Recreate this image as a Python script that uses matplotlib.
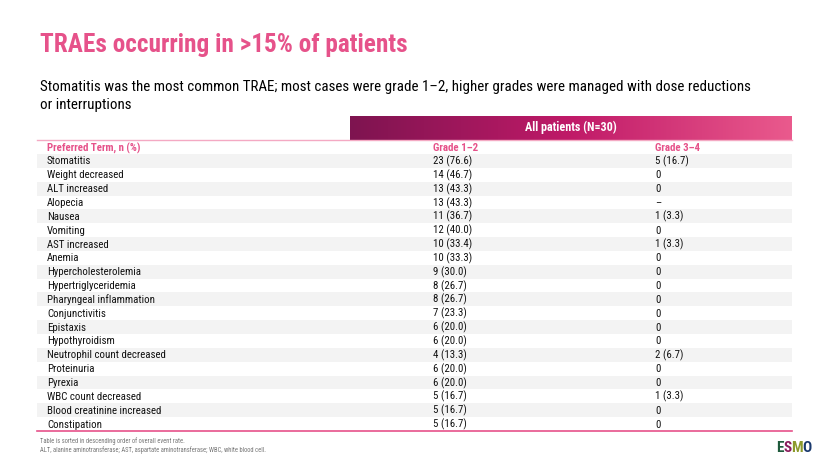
import matplotlib
matplotlib.use('Agg')
import matplotlib.pyplot as plt
import numpy as np
from matplotlib import font_manager
from matplotlib.colors import LinearSegmentedColormap

# Table content
terms = ['Stomatitis', 'Weight decreased', 'ALT increased', 'Alopecia', 'Nausea',
         'Vomiting', 'AST increased', 'Anemia', 'Hypercholesterolemia',
         'Hypertriglyceridemia', 'Pharyngeal inflammation', 'Conjunctivitis',
         'Epistaxis', 'Hypothyroidism', 'Neutrophil count decreased', 'Proteinuria',
         'Pyrexia', 'WBC count decreased', 'Blood creatinine increased', 'Constipation']
grade_12 = ['23 (76.6)', '14 (46.7)', '13 (43.3)', '13 (43.3)', '11 (36.7)',
            '12 (40.0)', '10 (33.4)', '10 (33.3)', '9 (30.0)', '8 (26.7)',
            '8 (26.7)', '7 (23.3)', '6 (20.0)', '6 (20.0)', '4 (13.3)',
            '6 (20.0)', '6 (20.0)', '5 (16.7)', '5 (16.7)', '5 (16.7)']
grade_34 = ['5 (16.7)', '0', '0', '–', '1 (3.3)', '0', '1 (3.3)', '0', '0', '0',
            '0', '0', '0', '0', '2 (6.7)', '0', '0', '1 (3.3)', '0', '0']
col_headers = ['Preferred Term, n (%)', 'Grade 1–2', 'Grade 3–4']
band_label = 'All patients (N=30)'

title = 'TRAEs occurring in >15% of patients'
subtitle = ['Stomatitis was the most common TRAE; most cases were grade 1–2, higher grades '
            'were managed with dose reductions', 'or interruptions']
notes = ['Table is sorted in descending order of overall event rate.',
         'ALT, alanine aminotransferase; AST, aspartate aminotransferase; WBC, white blood cell.']

PINK = '#E6528A'
SHADE = '#F3F3F3'

# condensed font if there is one, otherwise shrink the regular one to the same widths
names = {f.name for f in font_manager.fontManager.ttflist}
FONT, k = 'Liberation Sans', 0.74
for cand, scale in [('Roboto Condensed', 1.0), ('Liberation Sans Narrow', 1.05)]:
    if cand in names:
        FONT, k = cand, scale
        break
plt.rcParams['font.family'] = [FONT, 'DejaVu Sans']

fig = plt.figure(figsize=(8.31, 4.68), dpi=100)
ax = fig.add_axes([0, 0, 1, 1])
ax.set_xlim(0, 831)
ax.set_ylim(468, 0)
ax.axis('off')

# slide title + subtitle
ax.text(40, 52, title, fontsize=18.2 * k, fontweight='bold', color=PINK, va='baseline')
ax.text(40, 91, subtitle[0], fontsize=10.8 * k, color='black', va='baseline')
ax.text(40, 108.5, subtitle[1], fontsize=10.8 * k, color='black', va='baseline')

# table geometry
x0, x1 = 37, 792
col_x = [47, 433, 655]
row_y0, pitch = 160.9, 13.85
fs = 7.8 * k

# gradient header band
cmap = LinearSegmentedColormap.from_list('band', ['#7E1450', '#C01A68', '#EA5A8D'])
grad = np.linspace(0, 1, 256).reshape(1, -1)
ax.imshow(grad, cmap=cmap, extent=[350, x1, 140, 116], aspect='auto', zorder=1)
ax.text((350 + x1) / 2, 131.5, band_label, color='white', fontsize=8.7 * k,
        fontweight='bold', ha='center', va='baseline', zorder=3)
ax.plot([x0, x1], [140, 140], color='#F4A9C3', lw=1.0, zorder=2)

# column headers
hy = row_y0 - pitch + 1
for cx, lab in zip(col_x, col_headers):
    ax.text(cx, hy + 3.4, lab, color=PINK, fontsize=fs, fontweight='bold', va='baseline')

# data rows with alternate shading
for i, (t, a, b) in enumerate(zip(terms, grade_12, grade_34)):
    y = row_y0 + i * pitch
    if i % 2 == 0:
        ax.fill_between([x0, x1], y - pitch / 2, y + pitch / 2, color=SHADE, lw=0, zorder=0)
    for cx, s in zip(col_x, [t, a, b]):
        ax.text(cx, y + 3.5, s, fontsize=fs, color='#111111', va='baseline')

bottom = row_y0 + (len(terms) - 0.5) * pitch
ax.plot([x0, x1], [bottom, bottom], color=PINK, lw=1.2)

# footnotes
ax.text(40, 441, notes[0], fontsize=4.7 * k, color='#777777', va='center')
ax.text(40, 450, notes[1], fontsize=4.7 * k, color='#777777', va='center')

# ESMO mark
for lx, ch, c in zip([780, 787.5, 796.5, 806.5], 'ESMO',
                     ['#1F5A3C', '#8A1C5C', '#8C9A2C', '#1B3A6E']):
    ax.text(lx, 452.5, ch, fontsize=11 * k, fontweight='bold', color=c,
            ha='center', va='baseline')

fig.savefig('out.png', dpi=100)
